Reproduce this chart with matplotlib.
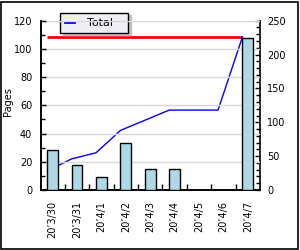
import matplotlib
matplotlib.use("Agg")
import matplotlib.pyplot as plt
import matplotlib.patches as mpatches
from matplotlib.ticker import MultipleLocator, FixedLocator
import numpy as np

categories = ["20’3/30", "20’3/31", "20’4/1", "20’4/2", "20’4/3",
              "20’4/4", "20’4/5", "20’4/6", "20’4/7"]
pages = [28, 18, 9, 33, 15, 15, 0, 0, 108]
total = [28, 46, 55, 88, 103, 118, 118, 118, 226]
max_line = [226] * len(categories)

plt.rcParams['font.family'] = ['DejaVu Sans']
fs = 7

fig = plt.figure(figsize=(3.0, 2.5), dpi=100)
fig.patch.set_facecolor('white')

W, H = 300.0, 250.0
left, right, top, bottom = 40.5, 260.0, 20.7, 190.0
ax = fig.add_axes([left / W, 1 - bottom / H, (right - left) / W, (bottom - top) / H])
ax2 = ax.twinx()
ax.set_zorder(2)
ax.patch.set_visible(False)
ax2.set_zorder(1)
ax2.patch.set_facecolor('white')

x = np.arange(len(categories))
bw = 0.44
ax.bar(x, pages, width=bw, color='#add8e6', edgecolor='black', linewidth=1.0, zorder=3)

xl = x - bw / 2
ax2.plot(xl, max_line, color='#ff0000', linewidth=2.0, solid_capstyle='butt')
ax2.plot(xl, total, color='#0000ff', linewidth=1.0, label='Total')

ax.set_xlim(-0.5, len(categories) - 0.5)
ax.set_ylim(0, 120)
ax2.set_ylim(0, 250)

ax.yaxis.set_major_locator(MultipleLocator(20))
ax.yaxis.set_minor_locator(MultipleLocator(10))
ax.grid(axis='y', which='major', color='#d8d8d8', linewidth=1.0, zorder=0)
ax.set_axisbelow(True)

ax2.yaxis.set_major_locator(MultipleLocator(50))
ax2.yaxis.set_minor_locator(MultipleLocator(10))

ax.set_xticks(x)
ax.set_xticklabels(categories, rotation=90, fontsize=fs)
ax.xaxis.set_minor_locator(FixedLocator(x[:-1] + 0.5))
ax.tick_params(axis='x', which='major', length=0, pad=8)
ax.tick_params(axis='x', which='minor', direction='in', length=4.5, width=1, color='black')

ax.yaxis.set_ticks_position('left')
ax.tick_params(axis='y', which='both', direction='in', left=True, right=False)
ax.tick_params(axis='y', which='major', length=3.5, width=1, labelsize=fs, pad=6)
ax.tick_params(axis='y', which='minor', length=3.0, width=1)
ax2.tick_params(axis='y', which='both', direction='in', left=False, right=True)
ax2.tick_params(axis='y', which='major', length=3.5, width=1, labelsize=fs, pad=5)
ax2.tick_params(axis='y', which='minor', length=3.0, width=1)

for a in (ax, ax2):
    a.spines['top'].set_visible(False)
    for s in ('left', 'right', 'bottom'):
        a.spines[s].set_linewidth(1.2)
        a.spines[s].set_color('black')
ax.spines['right'].set_visible(False)

fig.text(8.3 / W, 1 - 102 / H, 'Pages', rotation=90, ha='center', va='center', fontsize=fs)

leg = ax2.legend(loc='upper left', bbox_to_anchor=(60 / W, 1 - 34 / H, 68 / W, 21.5 / H),
                 bbox_transform=fig.transFigure, fontsize=8, frameon=True,
                 mode='expand',
                 fancybox=False, shadow={'color': '#c0c0c0', 'alpha': 1.0},
                 handlelength=0.8, borderpad=0.45, handletextpad=1.2,
                 borderaxespad=0)
leg.get_frame().set_edgecolor('black')
leg.get_frame().set_facecolor('#eeeef4')
leg.get_frame().set_linewidth(1.0)
leg.set_zorder(10)
for l in leg.get_lines():
    l.set_linewidth(2.0)

fig.patches.append(mpatches.Rectangle((0.5 / W, 1.5 / H), 297 / W, 247 / H,
                                      transform=fig.transFigure, fill=False,
                                      edgecolor='black', linewidth=1.2))

fig.savefig('out.png', dpi=100, facecolor=fig.get_facecolor())
